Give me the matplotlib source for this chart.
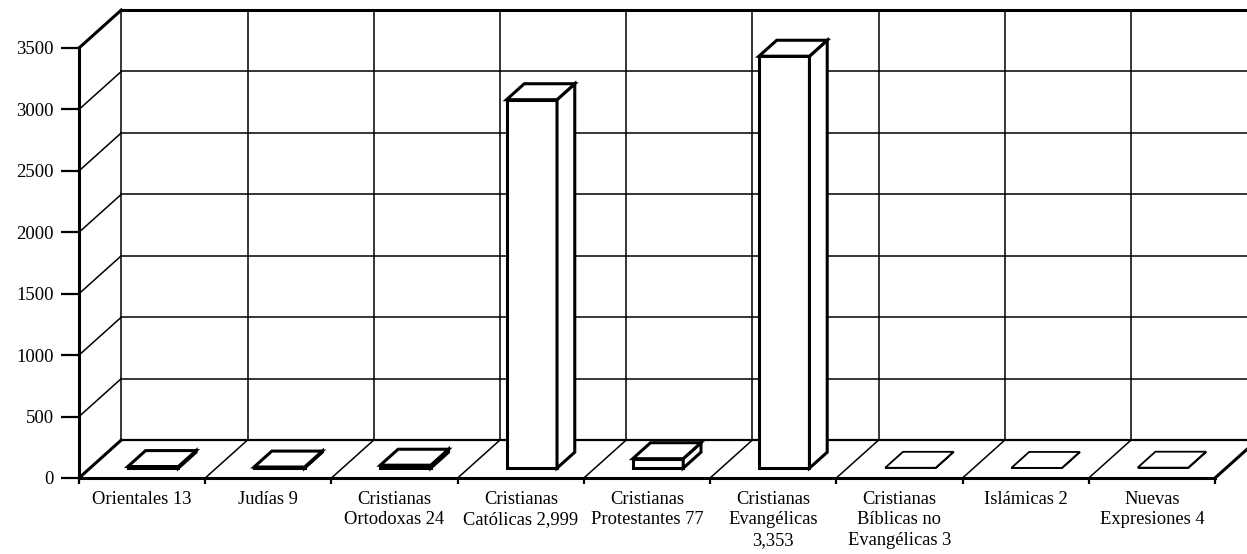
import numpy as np
import matplotlib
matplotlib.use("Agg")
import matplotlib.pyplot as plt
from matplotlib.patches import Polygon

# --- data -------------------------------------------------------------
categories = [
    "Orientales 13",
    "Judías 9",
    "Cristianas\nOrtodoxas 24",
    "Cristianas\nCatólicas 2,999",
    "Cristianas\nProtestantes 77",
    "Cristianas\nEvangélicas\n3,353",
    "Cristianas\nBíblicas no\nEvangélicas 3",
    "Islámicas 2",
    "Nuevas\nExpresiones 4",
]
values = [13, 9, 24, 2999, 77, 3353, 3, 2, 4]
y_ticks = [0, 500, 1000, 1500, 2000, 2500, 3000, 3500]

# --- oblique "3-D" geometry (in data units) ---------------------------
DEPTH_U = 0.335     # horizontal shift of the back plane, in category units
DEPTH_V = 309.0     # vertical shift of the back plane, in value units
BAR_W = 0.40
BAR_D0, BAR_D1 = 0.26, 0.68
Y_MAX = y_ticks[-1]
N = len(categories)


def oblique(u, v, d):
    """Point at category position u, value v and depth d (0 = front, 1 = back)."""
    return (u + d * DEPTH_U, v + d * DEPTH_V)


plt.rcParams["font.family"] = ["Liberation Serif", "DejaVu Serif"]

fig = plt.figure(figsize=(12.47, 5.54), dpi=100)
fig.patch.set_facecolor("white")
ax = fig.add_axes([79 / 1247, 76 / 554, 1136 / 1247, 430 / 554])
ax.set_xlim(0, N)
ax.set_ylim(0, Y_MAX)
ax.set_facecolor("none")

THIN, MID, THICK = 1.1, 1.6, 2.2


def seg(p, q, lw, z=1):
    ax.plot([p[0], q[0]], [p[1], q[1]], color="black", lw=lw,
            solid_capstyle="projecting", clip_on=False, zorder=z)


# back wall: horizontal grid lines and vertical category lines
for v in y_ticks:
    lw = THICK if v == Y_MAX else (MID if v == 0 else THIN)
    seg(oblique(0, v, 1), oblique(N + 0.2, v, 1), lw)
for u in range(N + 1):
    seg(oblique(u, 0, 1), oblique(u, Y_MAX, 1), THIN)

# left wall: diagonals from the value axis back to the wall
for v in y_ticks:
    lw = THICK if v in (0, Y_MAX) else THIN
    seg(oblique(0, v, 0), oblique(0, v, 1), lw)

# floor: diagonals at every category boundary
for u in range(1, N + 1):
    seg(oblique(u, 0, 0), oblique(u, 0, 1), THICK if u == N else THIN)

# bars
for i, v in enumerate(values):
    u0 = i + 0.5 - BAR_W / 2
    u1 = u0 + BAR_W
    lw = 1.3 if v < 5 else THICK
    faces = [
        [oblique(u0, 0, BAR_D0), oblique(u1, 0, BAR_D0),
         oblique(u1, v, BAR_D0), oblique(u0, v, BAR_D0)],
        [oblique(u1, 0, BAR_D0), oblique(u1, 0, BAR_D1),
         oblique(u1, v, BAR_D1), oblique(u1, v, BAR_D0)],
        [oblique(u0, v, BAR_D0), oblique(u1, v, BAR_D0),
         oblique(u1, v, BAR_D1), oblique(u0, v, BAR_D1)],
    ]
    for f in faces:
        ax.add_patch(Polygon(f, closed=True, facecolor="white",
                             edgecolor="black", lw=lw, joinstyle="miter",
                             clip_on=False, zorder=3))

# axes, ticks and labels
for side in ("top", "right"):
    ax.spines[side].set_visible(False)
for side in ("left", "bottom"):
    ax.spines[side].set_linewidth(THICK)
    ax.spines[side].set_zorder(5)

ax.set_yticks(y_ticks)
ax.set_yticklabels([str(t) for t in y_ticks])
ax.tick_params(axis="y", length=13, width=MID, pad=5, labelsize=13.5)

ax.set_xticks(np.arange(N) + 0.5)
ax.set_xticklabels(categories, linespacing=1.28)
ax.set_xticks(np.arange(N + 1), minor=True)
ax.tick_params(axis="x", which="major", length=0, pad=9, labelsize=13.3)
ax.tick_params(axis="x", which="minor", length=4.5, width=MID)

fig.savefig("out.png", dpi=100, facecolor="white")
